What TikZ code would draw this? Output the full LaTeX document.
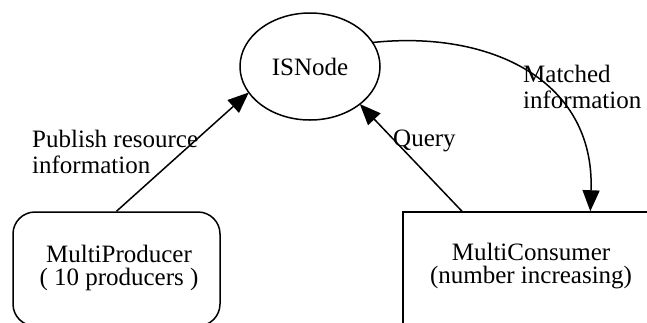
\documentclass[tikz,border=0pt]{standalone}
\usepackage{fontspec}
\setmainfont{Liberation Serif}
\usetikzlibrary{arrows.meta,shapes.geometric,calc}
\begin{document}
\begin{tikzpicture}[x=1pt,y=-1pt,
  every node/.style={font=\fontsize{25}{23}\selectfont},
  shapeline/.style={draw,line width=1.5pt},
  conn/.style={line width=1.5pt,-{Triangle[length=21pt,width=17pt]}},
  lbl/.style={anchor=base west,align=left,inner sep=0pt,font=\fontsize{25}{26}\selectfont},
  boxtext/.style={anchor=base,align=center,inner sep=0pt}]
\useasboundingbox (0,0) rectangle (647,322);
\clip (0,0) rectangle (647,322);

% the information service node
\node[shapeline,ellipse,inner sep=0pt,outer sep=0pt,minimum width=140pt,minimum height=107pt]
  (is) at (310,66.5) {ISNode};

% producer (rounded) and consumer (square) boxes, running off the lower edge
\node[shapeline,rectangle,rounded corners=22pt,minimum width=207pt,minimum height=114pt]
  (prod) at (116.5,269) {};
\node[shapeline,rectangle,minimum width=297pt,minimum height=188pt]
  (cons) at (551.5,306) {};

% multi-line nodes: the base anchor sits on the last line
\node[boxtext] (prodtext) at (119,285) {MultiProducer\\( 10 producers )};
\node[boxtext] (constext) at (531,283) {MultiConsumer\\(number increasing)};

% connectors
\draw[conn] (prod.north) -- (is.203);
\draw[conn] ($(cons.north west)!0.2!(cons.north east)$) -- (is.323);
\draw[conn] (is.21) .. controls (490,30) and (595,80) ..
  ($(cons.north west)!0.63!(cons.north east)$);

% connector labels
\node[lbl] (publbl) at (32,173) {Publish resource\\information};
\node[lbl] (querylbl) at (393,146) {Query};
\node[lbl] (matchlbl) at (523,108) {Matched\\information};
\end{tikzpicture}
\end{document}
